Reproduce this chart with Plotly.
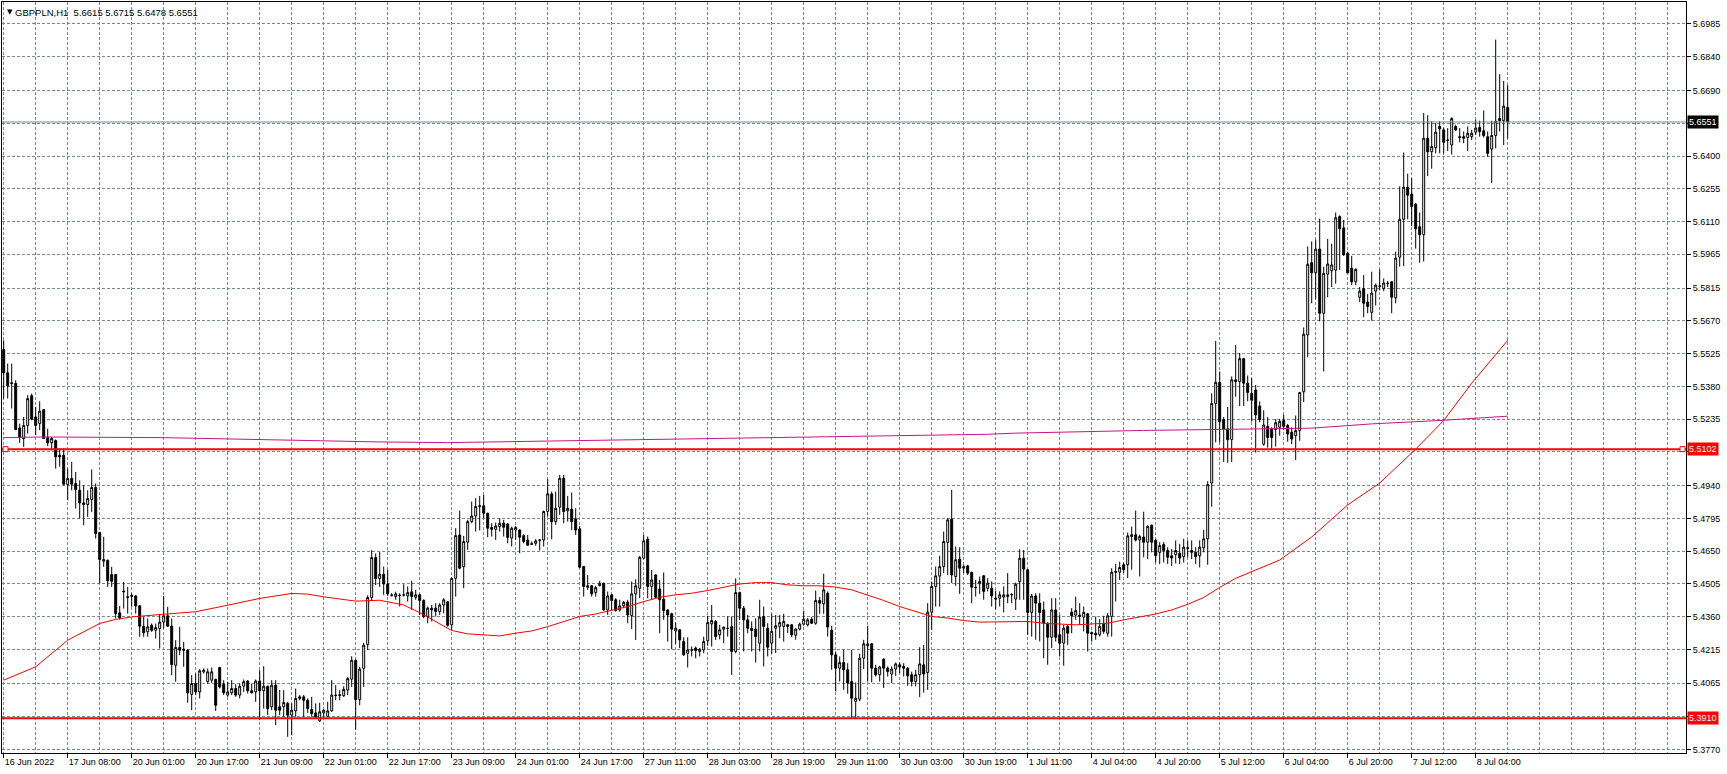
import plotly.graph_objects as go

# ---------------- data (GBPPLN, H1) ----------------
open_ = [
5.5543,5.5440,5.5396,5.5393,5.5196,5.5149,5.5207,5.5339,5.5245,5.5215,
5.5277,5.5153,5.5130,5.5140,5.5075,5.5075,5.4945,5.4972,5.4950,5.4920,
5.4864,5.4857,5.4879,5.4932,5.4733,5.4606,5.4610,5.4547,5.4547,5.4377,
5.4474,5.4448,5.4454,5.4452,5.4408,5.4318,5.4293,5.4322,5.4300,5.4308,
5.4336,5.4364,5.4318,5.4145,5.4224,5.4216,5.4212,5.4016,5.4064,5.4027,
5.4116,5.4072,5.4079,5.4082,5.4135,5.4061,5.4013,5.4023,5.4042,5.4013,
5.4052,5.4075,5.4032,5.4027,5.4075,5.4032,5.4052,5.3961,5.4057,5.3961,
5.3961,5.3976,5.3924,5.3943,5.3998,5.4005,5.3990,5.3949,5.3934,5.3899,
5.3934,5.3919,5.3943,5.4013,5.4011,5.4010,5.4035,5.4083,5.4167,5.3993,
5.4131,5.4237,5.4445,5.4622,5.4529,
5.4548,5.4505,5.4456,5.4449,5.4455,5.4455,5.4452,5.4470,5.4446,5.4457,
5.4432,5.4361,5.4398,5.4398,5.4383,5.4412,5.4426,5.4324,5.4530,5.4722,
5.4582,5.4690,5.4781,5.4806,5.4851,5.4851,5.4818,5.4755,5.4747,5.4759,
5.4774,5.4771,5.4708,5.4744,5.4744,5.4719,5.4700,5.4683,5.4685,5.4700,
5.4700,5.4826,5.4904,5.4781,5.4845,5.4973,5.4829,5.4836,5.4793,5.4749,
5.4582,5.4497,5.4497,5.4467,5.4498,5.4508,5.4390,5.4457,5.4435,5.4390,
5.4408,5.4424,5.4365,5.4461,5.4486,5.4619,5.4703,5.4494,5.4545,5.4483,
5.4437,5.4390,5.4373,5.4297,5.4302,5.4250,5.4198,5.4213,5.4221,5.4206,
5.4213,5.4254,5.4328,5.4339,5.4280,5.4305,5.4309,5.4316,5.4206,5.4467,
5.4398,5.4346,5.4309,5.4305,5.4243,
5.4361,5.4309,5.4243,5.4309,5.4317,5.4317,5.4324,5.4324,5.4278,5.4305,
5.4327,5.4324,5.4349,5.4331,5.4432,5.4417,5.4464,5.4300,5.4191,5.4132,
5.4157,5.4125,5.4073,5.3985,5.3995,5.4176,5.4231,5.4240,5.4132,5.4103,
5.4172,5.4132,5.4106,5.4128,5.4147,5.4140,5.4132,5.4103,5.4073,5.4103,
5.4147,5.4113,5.4380,5.4494,5.4540,5.4582,5.4689,5.4792,5.4538,5.4615,
5.4575,5.4585,5.4556,5.4491,5.4506,5.4541,5.4486,5.4486,5.4442,5.4442,
5.4447,5.4449,5.4457,5.4438,5.4516,5.4619,5.4568,5.4379,5.4452,5.4420,
5.4390,5.4331,5.4269,5.4390,5.4280,5.4243,5.4317,5.4380,5.4367,5.4361,
5.4358,5.4373,5.4290,5.4287,5.4280,5.4331,5.4287,5.4361,5.4556,5.4557,
5.4590,5.4590,5.4715,5.4723,5.4700,
5.4713,5.4690,5.4765,5.4698,5.4645,5.4680,5.4653,5.4630,5.4635,5.4641,
5.4626,5.4665,5.4653,5.4645,5.4630,5.4665,5.4705,5.4952,5.5304,5.5398,
5.5233,5.5192,5.5144,5.5409,5.5401,5.5503,5.5394,5.5349,5.5364,5.5293,
5.5124,5.5203,5.5192,5.5189,5.5199,5.5229,5.5207,5.5177,5.5162,5.5184,
5.5356,5.5608,5.5928,5.5883,5.5988,5.5704,5.5877,5.5892,5.5895,5.6132,
5.6082,5.5970,5.5903,5.5843,5.5775,5.5813,5.5753,5.5708,5.5802,5.5823,
5.5813,5.5835,5.5843,5.5772,5.5952,5.6120,5.6262,5.6232,5.6187,5.6087,
5.6052,5.6479,5.6419,5.6437,5.6531,5.6516,5.6471,5.6449,5.6531,5.6486,
5.6486,5.6482,5.6486,5.6506,5.6527,5.6512,5.6486,5.6431,5.6491,5.6566,
5.6557,5.6615]

high = [
5.5584,5.5481,5.5481,5.5407,5.5215,5.5245,5.5341,5.5348,5.5289,5.5314,
5.5280,5.5193,5.5156,5.5145,5.5105,5.5105,5.5016,5.5046,5.5001,5.4964,
5.4942,5.4920,5.5012,5.4950,5.4736,5.4714,5.4613,5.4581,5.4548,5.4407,
5.4514,5.4492,5.4463,5.4455,5.4411,5.4359,5.4352,5.4330,5.4330,5.4371,
5.4452,5.4404,5.4352,5.4256,5.4315,5.4249,5.4215,5.4101,5.4108,5.4128,
5.4131,5.4131,5.4135,5.4086,5.4138,5.4079,5.4072,5.4079,5.4061,5.4064,
5.4082,5.4079,5.4064,5.4082,5.4123,5.4141,5.4055,5.4079,5.4079,5.4035,
5.4035,5.3983,5.3976,5.4042,5.4013,5.4013,5.3998,5.4005,5.3976,5.3979,
5.3949,5.3983,5.4079,5.4057,5.4035,5.4052,5.4094,5.4185,5.4170,5.4138,
5.4244,5.4455,5.4655,5.4640,5.4647,
5.4582,5.4567,5.4464,5.4471,5.4464,5.4504,5.4494,5.4519,5.4479,5.4461,
5.4437,5.4405,5.4412,5.4420,5.4420,5.4442,5.4427,5.4532,5.4752,5.4830,
5.4718,5.4789,5.4870,5.4885,5.4895,5.4899,5.4821,5.4774,5.4777,5.4796,
5.4789,5.4774,5.4759,5.4762,5.4747,5.4725,5.4722,5.4693,5.4703,5.4703,
5.4830,5.4969,5.4914,5.4914,5.4988,5.4988,5.4895,5.4910,5.4840,5.4762,
5.4585,5.4545,5.4501,5.4497,5.4519,5.4511,5.4471,5.4461,5.4442,5.4435,
5.4430,5.4435,5.4516,5.4526,5.4629,5.4722,5.4715,5.4567,5.4548,5.4523,
5.4556,5.4393,5.4378,5.4334,5.4305,5.4269,5.4269,5.4228,5.4228,5.4221,
5.4272,5.4364,5.4412,5.4346,5.4324,5.4316,5.4361,5.4361,5.4530,5.4471,
5.4408,5.4368,5.4339,5.4353,5.4435,
5.4405,5.4331,5.4373,5.4368,5.4368,5.4373,5.4328,5.4328,5.4309,5.4334,
5.4387,5.4354,5.4358,5.4476,5.4447,5.4550,5.4472,5.4320,5.4206,5.4184,
5.4213,5.4154,5.4213,5.4069,5.4196,5.4258,5.4320,5.4243,5.4147,5.4143,
5.4176,5.4140,5.4140,5.4157,5.4157,5.4154,5.4137,5.4117,5.4125,5.4225,
5.4235,5.4420,5.4516,5.4582,5.4630,5.4737,5.4796,5.4922,5.4671,5.4668,
5.4590,5.4590,5.4560,5.4523,5.4538,5.4545,5.4531,5.4516,5.4476,5.4472,
5.4494,5.4553,5.4464,5.4511,5.4659,5.4656,5.4571,5.4461,5.4464,5.4464,
5.4427,5.4335,5.4442,5.4442,5.4368,5.4324,5.4324,5.4398,5.4449,5.4420,
5.4405,5.4376,5.4295,5.4361,5.4349,5.4364,5.4376,5.4575,5.4594,5.4604,
5.4600,5.4733,5.4759,5.4830,5.4723,
5.4825,5.4765,5.4769,5.4705,5.4690,5.4690,5.4668,5.4660,5.4698,5.4683,
5.4705,5.4698,5.4698,5.4668,5.4698,5.4745,5.4960,5.5349,5.5581,5.5446,
5.5244,5.5289,5.5424,5.5563,5.5528,5.5506,5.5428,5.5416,5.5386,5.5314,
5.5274,5.5244,5.5199,5.5236,5.5236,5.5254,5.5214,5.5199,5.5251,5.5356,
5.5641,5.6000,5.6022,5.6030,5.6123,5.5910,5.6033,5.6012,5.6150,5.6138,
5.6117,5.5977,5.5958,5.5903,5.5820,5.5873,5.5790,5.5888,5.5835,5.5898,
5.5858,5.5847,5.5846,5.5977,5.6266,5.6416,5.6322,5.6302,5.6192,5.6150,
5.6591,5.6581,5.6554,5.6546,5.6554,5.6524,5.6524,5.6572,5.6539,5.6524,
5.6509,5.6531,5.6516,5.6561,5.6557,5.6602,5.6509,5.6557,5.6916,5.6763,
5.6733,5.6715]

low = [
5.5326,5.5326,5.5282,5.5186,5.5130,5.5112,5.5171,5.5230,5.5164,5.5186,
5.5148,5.5115,5.5097,5.5016,5.5024,5.4942,5.4876,5.4920,5.4839,5.4795,
5.4765,5.4802,5.4824,5.4706,5.4507,5.4581,5.4492,5.4492,5.4352,5.4348,
5.4396,5.4374,5.4404,5.4374,5.4271,5.4271,5.4271,5.4293,5.4263,5.4219,
5.4308,5.4315,5.4101,5.4072,5.4190,5.4138,5.3979,5.3946,5.4013,5.3998,
5.4108,5.4064,5.4067,5.3943,5.4042,5.4013,5.4005,5.4013,5.4005,5.3998,
5.4027,5.4020,5.4020,5.3983,5.3902,5.3953,5.3924,5.3946,5.3880,5.3924,
5.3917,5.3828,5.3835,5.3917,5.3990,5.3917,5.3934,5.3917,5.3909,5.3894,
5.3917,5.3914,5.3939,5.3990,5.3990,5.4005,5.4013,5.4049,5.3860,5.3968,
5.4049,5.4212,5.4433,5.4500,5.4492,
5.4457,5.4452,5.4449,5.4435,5.4405,5.4449,5.4427,5.4390,5.4435,5.4368,
5.4353,5.4331,5.4339,5.4361,5.4368,5.4375,5.4316,5.4302,5.4449,5.4570,
5.4486,5.4656,5.4774,5.4737,5.4742,5.4796,5.4712,5.4715,5.4700,5.4737,
5.4715,5.4685,5.4671,5.4700,5.4641,5.4685,5.4674,5.4678,5.4674,5.4653,
5.4671,5.4803,5.4703,5.4767,5.4811,5.4774,5.4781,5.4744,5.4722,5.4575,
5.4449,5.4479,5.4449,5.4449,5.4494,5.4387,5.4368,5.4387,5.4383,5.4383,
5.4398,5.4331,5.4305,5.4257,5.4442,5.4615,5.4442,5.4435,5.4442,5.4287,
5.4346,5.4250,5.4216,5.4240,5.4221,5.4187,5.4135,5.4184,5.4176,5.4184,
5.4198,5.4231,5.4228,5.4257,5.4260,5.4243,5.4272,5.4102,5.4198,5.4346,
5.4206,5.4287,5.4206,5.4157,5.4206,
5.4140,5.4184,5.4196,5.4199,5.4265,5.4250,5.4287,5.4269,5.4258,5.4299,
5.4321,5.4317,5.4328,5.4324,5.4373,5.4373,5.4272,5.4125,5.4029,5.4073,
5.4036,5.4019,5.3911,5.3911,5.3985,5.4128,5.4073,5.4069,5.4095,5.4073,
5.4044,5.4095,5.4066,5.4098,5.4110,5.4095,5.4054,5.4051,5.4051,5.4004,
5.4024,5.4036,5.4302,5.4405,5.4405,5.4553,5.4545,5.4509,5.4497,5.4461,
5.4553,5.4545,5.4420,5.4449,5.4461,5.4435,5.4472,5.4405,5.4393,5.4405,
5.4379,5.4420,5.4420,5.4390,5.4435,5.4435,5.4280,5.4272,5.4258,5.4251,
5.4176,5.4147,5.4221,5.4250,5.4184,5.4143,5.4235,5.4287,5.4346,5.4324,
5.4295,5.4206,5.4250,5.4258,5.4272,5.4284,5.4272,5.4272,5.4427,5.4523,
5.4553,5.4531,5.4568,5.4693,5.4538,
5.4623,5.4615,5.4645,5.4600,5.4593,5.4600,5.4593,5.4585,5.4596,5.4593,
5.4600,5.4623,5.4615,5.4593,5.4578,5.4645,5.4590,5.4847,5.5132,5.5132,
5.5045,5.5042,5.5045,5.5334,5.5293,5.5293,5.5314,5.5224,5.5087,5.5221,
5.5117,5.5109,5.5099,5.5114,5.5162,5.5189,5.5135,5.5124,5.5054,5.5139,
5.5311,5.5509,5.5748,5.5768,5.5668,5.5446,5.5775,5.5820,5.5835,5.5895,
5.5958,5.5880,5.5828,5.5828,5.5753,5.5686,5.5704,5.5671,5.5738,5.5805,
5.5802,5.5820,5.5704,5.5748,5.5910,5.5913,5.6120,5.6090,5.5990,5.5928,
5.5933,5.6311,5.6344,5.6412,5.6412,5.6412,5.6422,5.6407,5.6512,5.6461,
5.6457,5.6422,5.6471,5.6494,5.6486,5.6482,5.6397,5.6281,5.6434,5.6509,
5.6449,5.6478]

close = [
5.5440,5.5382,5.5393,5.5189,5.5153,5.5207,5.5326,5.5235,5.5207,5.5270,
5.5149,5.5130,5.5149,5.5068,5.5068,5.4947,5.4972,5.4947,5.4923,5.4864,
5.4857,5.4883,5.4932,5.4728,5.4613,5.4613,5.4519,5.4517,5.4374,5.4355,
5.4471,5.4446,5.4451,5.4408,5.4318,5.4289,5.4315,5.4300,5.4312,5.4336,
5.4364,5.4318,5.4148,5.4224,5.4212,5.4212,5.4023,5.4064,5.4027,5.4120,
5.4123,5.4116,5.4116,5.3968,5.4049,5.4023,5.4027,5.4042,5.4013,5.4052,
5.4072,5.4032,5.4023,5.4075,5.4032,5.4052,5.3953,5.4057,5.3946,5.3946,
5.3980,5.3924,5.3946,5.3998,5.4005,5.3990,5.3953,5.3931,5.3917,5.3939,
5.3946,5.3943,5.4013,5.4011,5.4014,5.4038,5.4086,5.4167,5.3993,5.4128,
5.4234,5.4445,5.4622,5.4529,5.4548,
5.4505,5.4461,5.4455,5.4461,5.4454,5.4457,5.4467,5.4449,5.4457,5.4432,
5.4361,5.4398,5.4390,5.4383,5.4412,5.4435,5.4322,5.4530,5.4719,5.4575,
5.4693,5.4781,5.4806,5.4848,5.4849,5.4818,5.4752,5.4747,5.4762,5.4774,
5.4756,5.4711,5.4752,5.4755,5.4712,5.4693,5.4677,5.4681,5.4696,5.4699,
5.4826,5.4904,5.4781,5.4840,5.4973,5.4826,5.4840,5.4781,5.4744,5.4579,
5.4494,5.4491,5.4461,5.4489,5.4508,5.4390,5.4452,5.4432,5.4387,5.4408,
5.4424,5.4368,5.4461,5.4497,5.4623,5.4696,5.4494,5.4523,5.4446,5.4435,
5.4387,5.4368,5.4305,5.4309,5.4257,5.4191,5.4213,5.4212,5.4210,5.4216,
5.4250,5.4334,5.4343,5.4272,5.4302,5.4314,5.4308,5.4206,5.4467,5.4398,
5.4346,5.4309,5.4299,5.4272,5.4358,
5.4317,5.4225,5.4295,5.4320,5.4334,5.4339,5.4317,5.4280,5.4305,5.4327,
5.4349,5.4346,5.4331,5.4432,5.4420,5.4479,5.4314,5.4191,5.4132,5.4157,
5.4125,5.4066,5.3999,5.3999,5.4176,5.4240,5.4240,5.4132,5.4103,5.4137,
5.4132,5.4117,5.4128,5.4151,5.4137,5.4132,5.4098,5.4073,5.4103,5.4151,
5.4106,5.4380,5.4494,5.4541,5.4582,5.4693,5.4789,5.4545,5.4612,5.4575,
5.4582,5.4553,5.4491,5.4489,5.4516,5.4472,5.4509,5.4452,5.4438,5.4457,
5.4457,5.4457,5.4458,5.4504,5.4619,5.4571,5.4379,5.4452,5.4420,5.4379,
5.4331,5.4269,5.4390,5.4269,5.4243,5.4309,5.4287,5.4364,5.4387,5.4367,
5.4379,5.4287,5.4284,5.4280,5.4317,5.4295,5.4364,5.4557,5.4560,5.4578,
5.4568,5.4718,5.4723,5.4700,5.4715,
5.4690,5.4760,5.4690,5.4630,5.4675,5.4653,5.4623,5.4620,5.4653,5.4620,
5.4668,5.4663,5.4645,5.4626,5.4668,5.4705,5.4945,5.5304,5.5398,5.5224,
5.5192,5.5144,5.5409,5.5401,5.5503,5.5394,5.5353,5.5319,5.5254,5.5233,
5.5209,5.5154,5.5154,5.5219,5.5225,5.5203,5.5169,5.5147,5.5184,5.5353,
5.5611,5.5921,5.5883,5.5988,5.5704,5.5880,5.5922,5.5918,5.6127,5.6078,
5.5963,5.5883,5.5843,5.5898,5.5802,5.5748,5.5734,5.5793,5.5828,5.5825,
5.5838,5.5837,5.5775,5.5948,5.6120,5.6262,5.6227,5.6177,5.6078,5.6052,
5.6479,5.6419,5.6442,5.6506,5.6521,5.6461,5.6470,5.6566,5.6516,5.6482,
5.6479,5.6501,5.6501,5.6524,5.6509,5.6491,5.6412,5.6491,5.6554,5.6557,
5.6621,5.6551]

# moving averages (bar index, price)
ma_red_idx = [0,8,16,24,28,32,40,48,56,64,72,76,80,88,94,100,104,108,112,116,120,124,128,132,
              136,140,144,148,152,156,160,164,168,172,176,180,184,188,192,196,200,204,208,212,
              216,220,224,228,232,236,240,244,248,252,256,260,264,268,272,276,280,284,288,292,
              296,300,304,308,312,316,319,327,336,344,348,353,360,367,376]
ma_red_val = [5.4079,5.4138,5.4256,5.4330,5.4348,5.4359,5.4371,5.4382,5.4411,5.4441,5.4463,5.4460,
              5.4448,5.4429,5.4433,5.4412,5.4378,5.4339,5.4299,5.4284,5.4280,5.4275,5.4287,5.4297,
              5.4316,5.4339,5.4361,5.4372,5.4387,5.4405,5.4427,5.4446,5.4457,5.4464,5.4476,5.4489,
              5.4505,5.4511,5.4511,5.4501,5.4497,5.4497,5.4491,5.4479,5.4457,5.4432,5.4405,5.4383,
              5.4361,5.4354,5.4343,5.4336,5.4336,5.4336,5.4339,5.4331,5.4327,5.4324,5.4328,5.4331,
              5.4346,5.4358,5.4372,5.4390,5.4415,5.4445,5.4490,5.4530,5.4560,5.4590,5.4611,5.4713,
              5.4855,5.4952,5.5019,5.5102,5.5229,5.5394,5.5584]
ma_mag_idx = [0,10,40,52,64,73,85,94,111,146,189,201,222,237,246,253,263,274,285,327,342,359,376]
ma_mag_val = [5.5153,5.5156,5.5153,5.5149,5.5146,5.5142,5.5136,5.5134,5.5131,5.5140,5.5151,5.5155,
              5.5159,5.5164,5.5168,5.5173,5.5177,5.5183,5.5185,5.5195,5.5214,5.5229,5.5248]

time_labels = ["16 Jun 2022","17 Jun 08:00","20 Jun 01:00","20 Jun 17:00","21 Jun 09:00",
               "22 Jun 01:00","22 Jun 17:00","23 Jun 09:00","24 Jun 01:00","24 Jun 17:00",
               "27 Jun 11:00","28 Jun 03:00","28 Jun 19:00","29 Jun 11:00","30 Jun 03:00",
               "30 Jun 19:00","1 Jul 11:00","4 Jul 04:00","4 Jul 20:00","5 Jul 12:00",
               "6 Jul 04:00","6 Jul 20:00","7 Jul 12:00","8 Jul 04:00"]
label_step = 16
price_grid = ["5.3770","5.3920","5.4065","5.4215","5.4360","5.4505","5.4650","5.4795",
              "5.4940","5.5090","5.5235","5.5380","5.5525","5.5670","5.5815","5.5965",
              "5.6110","5.6255","5.6400","5.6545","5.6690","5.6840","5.6985"]
hidden_labels = ["5.3920","5.5090","5.6545"]   # covered by the price tags

symbol = "GBPPLN,H1"
last_price = 5.6551
level_upper = 5.5102
level_lower = 5.3910

# ---------------- figure ----------------
n = len(close)
xs = list(range(n))
GRID = "#778899"
FONT = "Liberation Sans, Arial, sans-serif"

fig = go.Figure()
fig.add_trace(go.Candlestick(
    x=xs, open=open_, high=high, low=low, close=close,
    increasing=dict(line=dict(color="black", width=1), fillcolor="white"),
    decreasing=dict(line=dict(color="black", width=1), fillcolor="black"),
    whiskerwidth=0, hoverinfo="skip", showlegend=False))
fig.add_trace(go.Scatter(x=ma_red_idx, y=ma_red_val, mode="lines",
                         line=dict(color="#ff0000", width=1), hoverinfo="skip", showlegend=False))
fig.add_trace(go.Scatter(x=ma_mag_idx, y=ma_mag_val, mode="lines",
                         line=dict(color="#c71585", width=1), hoverinfo="skip", showlegend=False))

major = [k * label_step for k in range(len(time_labels))]
minor = [v for v in range(8, 421, 8) if v not in major]
ytext = ["" if t in hidden_labels else t for t in price_grid]

fig.update_layout(
    width=1727, height=774,
    margin=dict(l=2, r=41, t=2, b=21, autoexpand=False),
    paper_bgcolor="white", plot_bgcolor="white",
    showlegend=False, boxgap=0.3,
    xaxis=dict(range=[-0.425, 420.575], tickmode="array", tickvals=major, ticktext=time_labels,
               ticks="outside", ticklen=4, tickcolor="black", tickwidth=1,
               ticklabelposition="outside right",
               tickfont=dict(family=FONT, size=9, color="black"),
               showgrid=True, gridcolor=GRID, griddash="3px,2px", gridwidth=1,
               minor=dict(tickvals=minor, showgrid=True, gridcolor=GRID, griddash="3px,2px",
                          gridwidth=1, ticks=""),
               showline=True, linecolor="black", linewidth=1, mirror=True,
               zeroline=False, rangeslider=dict(visible=False), fixedrange=True),
    yaxis=dict(range=[5.37564, 5.70824], side="right", tickmode="array",
               tickvals=[float(t) for t in price_grid], ticktext=ytext,
               ticks="outside", ticklen=4, tickcolor="black", tickwidth=1,
               tickfont=dict(family=FONT, size=9, color="black"),
               showgrid=True, gridcolor=GRID, griddash="3px,2px", gridwidth=1,
               showline=True, linecolor="black", linewidth=1, mirror=True,
               zeroline=False, fixedrange=True),
)

# horizontal lines
fig.add_shape(type="line", xref="paper", x0=0, x1=1, yref="y", y0=last_price, y1=last_price,
              line=dict(color=GRID, width=1))
for lv in (level_upper, level_lower):
    fig.add_shape(type="line", xref="paper", x0=0, x1=1, yref="y", y0=lv, y1=lv,
                  line=dict(color="#ff0000", width=2))
for xa in (0.0, 1.0):
    fig.add_shape(type="rect", xref="paper", xanchor=xa, xsizemode="pixel",
                  x0=(1 if xa == 0 else -6), x1=(6 if xa == 0 else -1),
                  yref="y", yanchor=level_upper, ysizemode="pixel", y0=-2.5, y1=2.5,
                  line=dict(color="#ff0000", width=1), fillcolor="white")

# price tags on the right axis
for val, bg in ((last_price, "black"), (level_upper, "#ff0000"), (level_lower, "#ff0000")):
    fig.add_annotation(xref="paper", x=1, xanchor="left", xshift=1, yref="y", y=val,
                       yanchor="middle", text=f"{val:.4f}", showarrow=False,
                       bgcolor=bg, borderpad=1,
                       font=dict(family=FONT, size=9, color="white"))

# title
fig.add_annotation(xref="paper", x=0, xanchor="left", xshift=3, yref="paper", y=1,
                   yanchor="middle", yshift=-10, text="▼", showarrow=False,
                   font=dict(family="DejaVu Sans", size=7, color="black"))
fig.add_annotation(xref="paper", x=0, xanchor="left", xshift=11, yref="paper", y=1,
                   yanchor="middle", yshift=-10,
                   text=f"{symbol}  {open_[-1]:.4f} {high[-1]:.4f} {low[-1]:.4f} {close[-1]:.4f}",
                   showarrow=False, font=dict(family=FONT, size=9.5, color="black"))

fig.write_html("out.html",
               config={"displayModeBar": False, "staticPlot": True},
               post_script="document.body.style.margin='0';document.body.style.padding='0';"
                           "document.body.style.overflow='hidden';")
